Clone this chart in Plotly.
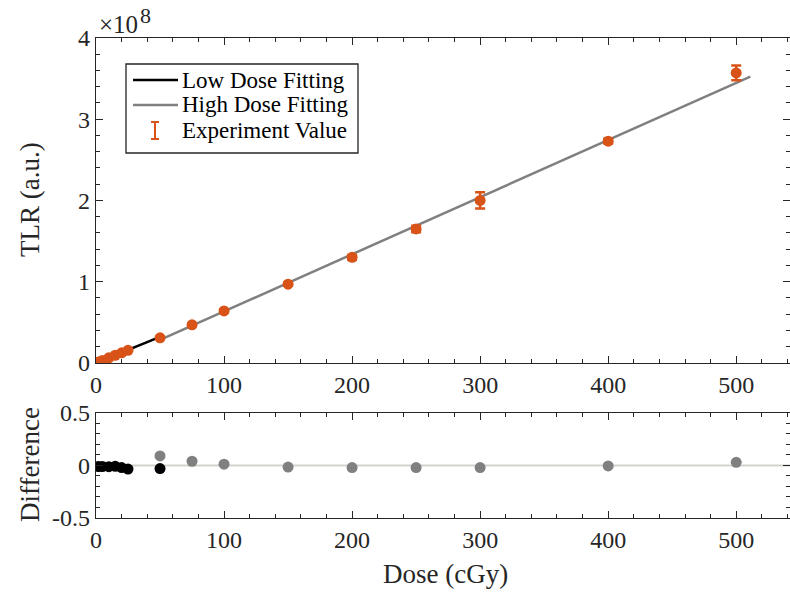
import numpy as np
import plotly.graph_objects as go

# Measured thermoluminescence response (TLR) in units of 1e8 a.u.
dose_cgy = [2, 5, 10, 15, 20, 25, 50, 75, 100, 150, 200, 250, 300, 400, 500]
tlr_e8 = [0.012, 0.03, 0.063, 0.095, 0.125, 0.155, 0.31, 0.47, 0.64, 0.97, 1.30,
          1.65, 2.00, 2.73, 3.57]
tlr_err_e8 = [0.005, 0.005, 0.005, 0.006, 0.006, 0.008, 0.012, 0.015, 0.02, 0.02,
              0.03, 0.04, 0.10, 0.03, 0.09]

# Linear fits (TLR = slope * dose + intercept), 1e8 a.u.
low_fit_slope, low_fit_intercept = 0.0064, 0.0
low_fit_range = [0, 50]
high_fit_slope, high_fit_intercept = 0.00703, -0.068
high_fit_range = [50, 511]

# Relative differences between measurement and fit
low_diff_dose = [2, 5, 10, 15, 20, 25, 50]
low_diff = [-0.01, -0.01, -0.012, -0.008, -0.02, -0.035, -0.03]
high_diff_dose = [50, 75, 100, 150, 200, 250, 300, 400, 500]
high_diff = [0.09, 0.04, 0.012, -0.015, -0.02, -0.02, -0.02, -0.005, 0.03]

x_ticks = [0, 100, 200, 300, 400, 500]
top_y_ticks = [0, 1, 2, 3, 4]
bottom_y_ticks = [-0.5, 0, 0.5]

ORANGE = "#D95319"
GRAY = "#808080"
BLACK = "#000000"
AXIS = "#262626"
FONT = "Liberation Serif, Times New Roman, DejaVu Serif, serif"

W, H = 790, 595
ML, MR, MT, MB = 96, 0, 38, 77
PW, PH = W - ML - MR, H - MT - MB


def paper(px, py):
    """Pixel position on the page -> paper coordinates."""
    return (px - ML) / PW, (H - MB - py) / PH


fig = go.Figure()

lx = np.array(low_fit_range, dtype=float)
hx = np.array(high_fit_range, dtype=float)
fig.add_trace(go.Scatter(x=lx, y=low_fit_slope * lx + low_fit_intercept, mode="lines",
                         line=dict(color=BLACK, width=2.5), showlegend=False,
                         xaxis="x", yaxis="y"))
fig.add_trace(go.Scatter(x=hx, y=high_fit_slope * hx + high_fit_intercept, mode="lines",
                         line=dict(color=GRAY, width=2.5), showlegend=False,
                         xaxis="x", yaxis="y"))
fig.add_trace(go.Scatter(x=dose_cgy, y=tlr_e8, mode="markers",
                         marker=dict(color=ORANGE, size=11),
                         error_y=dict(type="data", array=tlr_err_e8, color=ORANGE,
                                      thickness=2.5, width=5),
                         showlegend=False, xaxis="x", yaxis="y"))

# Difference panel
fig.add_trace(go.Scatter(x=[0, 545], y=[0, 0], mode="lines",
                         line=dict(color="#D3D3CB", width=2), showlegend=False,
                         xaxis="x2", yaxis="y2"))
fig.add_trace(go.Scatter(x=high_diff_dose, y=high_diff, mode="markers",
                         marker=dict(color=GRAY, size=11), showlegend=False,
                         xaxis="x2", yaxis="y2"))
fig.add_trace(go.Scatter(x=low_diff_dose, y=low_diff, mode="markers",
                         marker=dict(color=BLACK, size=11), showlegend=False,
                         xaxis="x2", yaxis="y2"))

axis_common = dict(showline=True, linecolor=AXIS, linewidth=1.3, mirror="ticks",
                   ticks="inside", ticklen=7, tickwidth=1.2, tickcolor=AXIS,
                   showgrid=False, zeroline=False,
                   tickfont=dict(family=FONT, size=24, color=AXIS))

fig.update_layout(
    width=W, height=H, margin=dict(l=ML, r=MR, t=MT, b=MB),
    paper_bgcolor="white", plot_bgcolor="white",
    font=dict(family=FONT, color=AXIS),
    xaxis=dict(anchor="y", domain=[0, 1], range=[0, 542], tickvals=x_ticks,
               minor=dict(dtick=20, ticks="inside", ticklen=4, tickcolor=AXIS),
               **axis_common),
    yaxis=dict(anchor="x", domain=[0.323, 1], range=[0, 4], tickvals=top_y_ticks,
               minor=dict(dtick=0.2, ticks="inside", ticklen=4, tickcolor=AXIS),
               **axis_common),
    xaxis2=dict(anchor="y2", domain=[0, 1], range=[0, 542], tickvals=x_ticks,
                minor=dict(dtick=20, ticks="inside", ticklen=4, tickcolor=AXIS),
                **axis_common),
    yaxis2=dict(anchor="x2", domain=[0, 0.219], range=[-0.5, 0.5],
                tickvals=bottom_y_ticks, ticktext=["-0.5", "0", "0.5"],
                minor=dict(dtick=0.1, ticks="inside", ticklen=4, tickcolor=AXIS),
                **axis_common),
)

shapes = []
annotations = []

# Legend box
x0, y0 = paper(126, 64)
x1, y1 = paper(358, 153)
shapes.append(dict(type="rect", xref="paper", yref="paper", x0=x0, y0=y1, x1=x1, y1=y0,
                   line=dict(color=AXIS, width=1.3), fillcolor="white", layer="above"))
legend_rows = [("Low Dose Fitting", 80), ("High Dose Fitting", 105), ("Experiment Value", 130)]
for (label, py), color in zip(legend_rows[:2], [BLACK, GRAY]):
    a, b = paper(133, py)
    c, _ = paper(178, py)
    shapes.append(dict(type="line", xref="paper", yref="paper", x0=a, y0=b, x1=c, y1=b,
                       line=dict(color=color, width=2.5), layer="above"))
# error-bar glyph
ex, etop = paper(155, 122)
_, ebot = paper(155, 139)
cl, _ = paper(151, 0)
cr, _ = paper(159, 0)
shapes.append(dict(type="line", xref="paper", yref="paper", x0=ex, y0=etop, x1=ex, y1=ebot,
                   line=dict(color=ORANGE, width=2), layer="above"))
for yy in (etop, ebot):
    shapes.append(dict(type="line", xref="paper", yref="paper", x0=cl, y0=yy, x1=cr, y1=yy,
                       line=dict(color=ORANGE, width=2), layer="above"))
for label, py in legend_rows:
    a, b = paper(180, py)
    annotations.append(dict(text=label, xref="paper", yref="paper", x=a, y=b,
                            xanchor="left", yanchor="middle", showarrow=False,
                            font=dict(family=FONT, size=23, color=BLACK)))

# Axis titles
for text, (px, py), angle in [("TLR (a.u.)", (30, 200), -90),
                              ("Difference", (30, 465), -90),
                              ("Dose (cGy)", (445, 574), 0)]:
    a, b = paper(px, py)
    annotations.append(dict(text=text, xref="paper", yref="paper", x=a, y=b,
                            xanchor="center", yanchor="middle", textangle=angle,
                            showarrow=False, font=dict(family=FONT, size=27, color=AXIS)))

# Exponent label for the TLR axis
a, b = paper(97, 25)
annotations.append(dict(text="×10", xref="paper", yref="paper", x=a, y=b,
                        xanchor="left", yanchor="middle", showarrow=False,
                        font=dict(family=FONT, size=25, color=AXIS)))
a, b = paper(138, 15)
annotations.append(dict(text="8", xref="paper", yref="paper", x=a, y=b,
                        xanchor="left", yanchor="middle", showarrow=False,
                        font=dict(family=FONT, size=22, color=AXIS)))

fig.update_layout(shapes=shapes, annotations=annotations)

fig.write_html("out.html")
